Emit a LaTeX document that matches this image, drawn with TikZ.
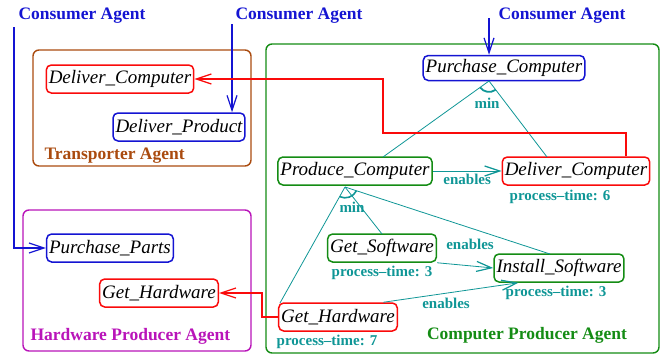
\documentclass[tikz,border=0pt]{standalone}
\usepackage{fontspec}
\setmainfont{Liberation Serif}
\usetikzlibrary{arrows.meta,calc}

\definecolor{agentblue}{RGB}{20,20,210}
\definecolor{agentred}{RGB}{250,10,10}
\definecolor{agentgreen}{RGB}{20,140,20}
\definecolor{agentbrown}{RGB}{170,75,15}
\definecolor{agentmagenta}{RGB}{185,20,185}
\definecolor{reltea}{RGB}{15,150,150}

\begin{document}
\begin{tikzpicture}[x=1pt,y=-1pt,
                    >={Straight Barb[length=15pt,width=10pt,line width=1.2pt]},
                    task/.style={draw,rounded corners=5pt,line width=1.5pt,fill=white,
                                 font=\fontsize{19}{21}\selectfont\itshape,
                                 minimum height=28pt,inner xsep=2.5pt},
                    agent/.style={rounded corners=6pt,line width=1.4pt},
                    tag/.style={font=\fontsize{17.5}{19}\selectfont\bfseries},
                    note/.style={font=\fontsize{15}{17}\selectfont\bfseries,text=reltea},
                    rel/.style={draw=reltea,line width=0.8pt},
                    link/.style={line width=1.5pt}
                   ]
  \useasboundingbox (0,0) rectangle (666,356);

  % agents
  \draw[agent,agentbrown]   (33,50)  rectangle (251,166);
  \draw[agent,agentmagenta] (23,210) rectangle (251,351);
  \draw[agent,agentgreen]   (266,44) rectangle (659,353);
  \node[tag,agentbrown,anchor=west]   (tname) at (41,156)  {Transporter Agent};
  \node[tag,agentmagenta,anchor=west] (hname) at (27,336)  {Hardware Producer Agent};
  \node[tag,agentgreen]               (cname) at (527,335) {Computer Producer Agent};

  % consumer side
  \node[tag,agentblue] (ca1) at (82,16)  {Consumer Agent};
  \node[tag,agentblue] (ca2) at (299,16) {Consumer Agent};
  \node[tag,agentblue] (ca3) at (562,16) {Consumer Agent};

  % tasks
  \node[task,draw=agentred]   (dc1) at (120,79)  {Deliver\_Computer};
  \node[task,draw=agentblue]  (dp)  at (179,127) {Deliver\_Product};
  \node[task,draw=agentblue]  (pp)  at (110,248) {Purchase\_Parts};
  \node[task,draw=agentred]   (gh1) at (159,293) {Get\_Hardware};
  \node[task,draw=agentblue,minimum height=25pt] (pc) at (504,68) {Purchase\_Computer};
  \node[task,draw=agentgreen] (prc) at (355,171) {Produce\_Computer};
  \node[task,draw=agentred]   (dc2) at (576,171) {Deliver\_Computer};
  \node[task,draw=agentgreen] (gs)  at (382,248) {Get\_Software};
  \node[task,draw=agentgreen] (is)  at (559,268) {Install\_Software};
  \node[task,draw=agentred]   (gh2) at (338,317) {Get\_Hardware};

  % process times
  \node[note] (t6) at (560,197) {process--time: 6};
  \node[note] (t3) at (382,273) {process--time: 3};
  \node[note] (t3b) at (556,293) {process--time: 3};
  \node[note] (t7) at (327,342) {process--time: 7};

  % incoming requests
  \coordinate (c1) at (14,27);
  \coordinate (c2) at (232,24);
  \coordinate (c3) at (489,18);
  \draw[agentblue,link,->] (c1) |- (pp.west);
  \draw[agentblue,link,->] (c2) -- (c2 |- dp.north);
  \draw[agentblue,link,->] (c3) -- (c3 |- pc.north);

  % min over Purchase_Computer
  \coordinate (pm) at (489,81);
  \coordinate (pa) at (383,157);
  \coordinate (pb) at (547,157);
  \path[rel] (pm) edge (pa) edge (pb);
  \draw[rel,line width=1.8pt] ($(pm)!11pt!(pa)$) to[bend right=45] ($(pm)!11pt!(pb)$);
  \node[note] (m1) at (487,103) {min};

  % min over Produce_Computer
  \coordinate (qm) at (345,187);
  \coordinate (qa) at (280,303);
  \coordinate (qb) at (382,234);
  \coordinate (qc) at (550,254);
  \path[rel] (qm) edge (qa) edge (qb) edge (qc);
  \draw[rel,line width=1.6pt] ($(qm)!11pt!(qa)$) to[bend right=45] ($(qm)!12pt!(qc)$);
  \node[note] (m2) at (352,207) {min};

  % enables
  \draw[rel,->] (prc) -- node[note,below=-1pt] {enables} (dc2);
  \draw[rel,->] (gs.345) -- (is.west);
  \draw[rel,->] (gh2.18) -- (is.200);
  \node[note] (e2) at (470,244) {enables};
  \node[note] (e3) at (446,303) {enables};

  % relations between agents
  \coordinate (r1) at (626,133);
  \coordinate (r2) at (383,133);
  \coordinate (r3) at (262,317);
  \draw[agentred,link,->] (dc2.north -| r1) -- (r1) -- (r2) |- (dc1.east);
  \draw[agentred,link,->] (gh2.west) -- (r3) |- (gh1.east);
\end{tikzpicture}
\end{document}
